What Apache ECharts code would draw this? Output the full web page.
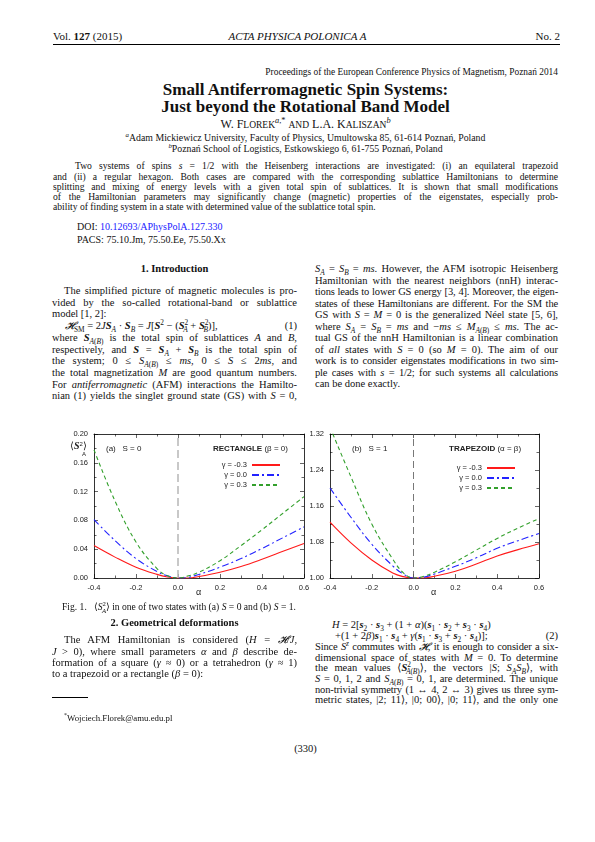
<!DOCTYPE html>
<html><head><meta charset="utf-8">
<script src="https://cdn.jsdelivr.net/npm/echarts@6/dist/echarts.min.js"></script>
<style>
html,body{margin:0;padding:0;background:#fff;}
#page{position:relative;width:595px;height:842px;font-family:"Liberation Serif","DejaVu Serif",serif;color:#111;}
.t{position:absolute;white-space:nowrap;line-height:12px;}
.j{text-align:justify;text-align-last:justify;white-space:nowrap;}
.b10{font-size:10.5px;}
.ab{font-size:9.6px;line-height:10px;}
i{font-style:italic;}
sub,sup{font-size:70%;line-height:0;}
.v{font-weight:bold;font-style:italic;}
#chart{position:absolute;left:0;top:420px;width:595px;height:195px;}
</style></head><body>
<div id="page">
<div class="t" style="left:53px;top:30px;font-size:11px;">Vol. <b>127</b> (2015)</div>
<div class="t" style="left:0;width:595px;text-align:center;top:30px;font-style:italic;font-size:11px;">ACTA PHYSICA POLONICA A</div>
<div class="t" style="left:460px;width:100px;text-align:right;top:30px;font-size:11px;">No. 2</div>
<div style="position:absolute;left:53px;top:44px;width:507px;border-top:0.8px solid #000;"></div>
<div class="t" style="left:208px;width:350px;text-align:right;top:66px;font-size:9.4px;">Proceedings of the European Conference Physics of Magnetism, Poznań 2014</div>
<div class="t" style="left:0;width:611px;text-align:center;top:80px;font-size:17px;font-weight:bold;line-height:20px;">Small Antiferromagnetic Spin Systems:</div>
<div class="t" style="left:0;width:611px;text-align:center;top:97px;font-size:17px;font-weight:bold;line-height:20px;">Just beyond the Rotational Band Model</div>
<div class="t" style="left:0;width:611px;text-align:center;top:118px;font-size:12px;">W. F<span style="font-size:9.5px">LOREK</span><sup><i>a</i>,*</sup> <span style="font-size:9.5px">AND</span> L.A. K<span style="font-size:9.5px">ALISZAN</span><sup><i>b</i></sup></div>
<div class="t" style="left:0;width:611px;text-align:center;top:132px;font-size:9.8px;"><sup><i>a</i></sup>Adam Mickiewicz University, Faculty of Physics, Umultowska 85, 61-614 Poznań, Poland</div>
<div class="t" style="left:0;width:611px;text-align:center;top:143px;font-size:9.8px;"><sup><i>b</i></sup>Poznań School of Logistics, Estkowskiego 6, 61-755 Poznań, Poland</div>
<div class="t ab j" style="left:75px;width:483px;top:161px;">Two systems of spins <i>s</i> = 1/2 with the Heisenberg interactions are investigated: (i) an equilateral trapezoid</div>
<div class="t ab j" style="left:53px;width:505px;top:172px;">and (ii) a regular hexagon. Both cases are compared with the corresponding sublattice Hamiltonians to determine</div>
<div class="t ab j" style="left:53px;width:505px;top:182px;">splitting and mixing of energy levels with a given total spin of sublattices. It is shown that small modifications</div>
<div class="t ab j" style="left:53px;width:505px;top:192px;">of the Hamiltonian parameters may significantly change (magnetic) properties of the eigenstates, especially prob-</div>
<div class="t ab" style="left:53px;top:202px;">ability of finding system in a state with determined value of the sublattice total spin.</div>
<div class="t" style="left:77px;top:221px;font-size:10px;">DOI: <span style="color:#1a1aff">10.12693/APhysPolA.127.330</span></div>
<div class="t" style="left:77px;top:234px;font-size:10px;">PACS: 75.10.Jm, 75.50.Ee, 75.50.Xx</div>

<div class="t b10" style="left:52px;width:245px;text-align:center;top:263px;font-weight:bold;">1. Introduction</div>
<div class="t b10 j" style="left:64px;width:233px;top:285px;">The simplified picture of magnetic molecules is pro-</div>
<div class="t b10 j" style="left:52px;width:245px;top:296.5px;">vided by the so-called rotational-band or sublattice</div>
<div class="t b10" style="left:52px;top:308px;">model [1, 2]:</div>
<div class="t b10" style="left:65px;top:320px;"><i>𝓗</i><sub>SM</sub> = 2<i>J</i><span class="v">S</span><sub><i>A</i></sub> · <span class="v">S</span><sub><i>B</i></sub> = <i>J</i>[<span class="v">S</span><sup>2</sup> − (<span class="v">S</span><sup>2</sup><sub style="margin-left:-5px"><i>A</i></sub> + <span class="v">S</span><sup>2</sup><sub style="margin-left:-5px"><i>B</i></sub>)],</div>
<div class="t b10" style="left:257px;width:40px;text-align:right;top:320px;">(1)</div>
<div class="t b10 j" style="left:52px;width:245px;top:332px;">where <span class="v">S</span><sub><i>A</i>(<i>B</i>)</sub> is the total spin of sublattices <i>A</i> and <i>B</i>,</div>
<div class="t b10 j" style="left:52px;width:245px;top:343.5px;">respectively, and <span class="v">S</span> = <span class="v">S</span><sub><i>A</i></sub> + <span class="v">S</span><sub><i>B</i></sub> is the total spin of</div>
<div class="t b10 j" style="left:52px;width:245px;top:355px;">the system; 0 ≤ <i>S</i><sub><i>A</i>(<i>B</i>)</sub> ≤ <i>ms</i>, 0 ≤ <i>S</i> ≤ 2<i>ms</i>, and</div>
<div class="t b10 j" style="left:52px;width:245px;top:367px;">the total magnetization <i>M</i> are good quantum numbers.</div>
<div class="t b10 j" style="left:52px;width:245px;top:378.5px;">For <i>antiferromagnetic</i> (AFM) interactions the Hamilto-</div>
<div class="t b10 j" style="left:52px;width:245px;top:390px;">nian (1) yields the singlet ground state (GS) with <i>S</i> = 0,</div>

<div class="t b10 j" style="left:315px;width:243px;top:263px;"><i>S</i><sub><i>A</i></sub> = <i>S</i><sub><i>B</i></sub> = <i>ms</i>. However, the AFM isotropic Heisenberg</div>
<div class="t b10 j" style="left:315px;width:243px;top:274.5px;">Hamiltonian with the nearest neighbors (nnH) interac-</div>
<div class="t b10 j" style="left:315px;width:243px;top:286px;letter-spacing:-0.15px;">tions leads to lower GS energy [3, 4]. Moreover, the eigen-</div>
<div class="t b10 j" style="left:315px;width:243px;top:297.5px;letter-spacing:-0.15px;">states of these Hamiltonians are different. For the SM the</div>
<div class="t b10 j" style="left:315px;width:243px;top:309px;">GS with <i>S</i> = <i>M</i> = 0 is the generalized Néel state [5, 6],</div>
<div class="t b10 j" style="left:315px;width:243px;top:320.5px;">where <i>S</i><sub><i>A</i></sub> = <i>S</i><sub><i>B</i></sub> = <i>ms</i> and −<i>ms</i> ≤ <i>M</i><sub><i>A</i>(<i>B</i>)</sub> ≤ <i>ms</i>. The ac-</div>
<div class="t b10 j" style="left:315px;width:243px;top:332px;">tual GS of the nnH Hamiltonian is a linear combination</div>
<div class="t b10 j" style="left:315px;width:243px;top:343.5px;">of <i>all</i> states with <i>S</i> = 0 (so <i>M</i> = 0). The aim of our</div>
<div class="t b10 j" style="left:315px;width:243px;top:355px;letter-spacing:-0.15px;">work is to consider eigenstates modifications in two sim-</div>
<div class="t b10 j" style="left:315px;width:243px;top:366.5px;letter-spacing:-0.15px;">ple cases with <i>s</i> = 1/2; for such systems all calculations</div>
<div class="t b10" style="left:315px;top:378px;">can be done exactly.</div>

<div id="chart"></div>

<div class="t" style="left:62px;top:601px;font-size:9.6px;">Fig. 1. &nbsp; ⟨<i>S</i><sup>2</sup><sub style="margin-left:-4px"><i>A</i></sub>⟩ in one of two states with (a) <i>S</i> = 0 and (b) <i>S</i> = 1.</div>
<div class="t b10" style="left:52px;width:245px;text-align:center;top:617px;font-weight:bold;">2. Geometrical deformations</div>
<div class="t b10 j" style="left:64px;width:233px;top:634px;">The AFM Hamiltonian is considered (<i>H</i> = <i>𝓗</i>/<i>J</i>,</div>
<div class="t b10 j" style="left:52px;width:245px;top:645.5px;"><i>J</i> &gt; 0), where small parameters <i>α</i> and <i>β</i> describe de-</div>
<div class="t b10 j" style="left:52px;width:245px;top:657px;">formation of a square (<i>γ</i> ≈ 0) or a tetrahedron (<i>γ</i> ≈ 1)</div>
<div class="t b10" style="left:52px;top:668px;">to a trapezoid or a rectangle (<i>β</i> = 0):</div>
<div style="position:absolute;left:52px;top:697px;width:36px;border-top:0.8px solid #000;"></div>
<div class="t" style="left:64px;top:712px;font-size:8.8px;"><sup>*</sup>Wojciech.Florek@amu.edu.pl</div>

<div class="t b10" style="left:332px;top:619px;"><i>H</i> = 2[<span class="v">s</span><sub>2</sub> · <span class="v">s</span><sub>3</sub> + (1 + <i>α</i>)(<span class="v">s</span><sub>1</sub> · <span class="v">s</span><sub>2</sub> + <span class="v">s</span><sub>3</sub> · <span class="v">s</span><sub>4</sub>)</div>
<div class="t b10" style="left:335px;top:630px;">+(1 + 2<i>β</i>)<span class="v">s</span><sub>1</sub> · <span class="v">s</span><sub>4</sub> + <i>γ</i>(<span class="v">s</span><sub>1</sub> · <span class="v">s</span><sub>3</sub> + <span class="v">s</span><sub>2</sub> · <span class="v">s</span><sub>4</sub>)];</div>
<div class="t b10" style="left:518px;width:40px;text-align:right;top:630px;">(2)</div>
<div class="t b10 j" style="left:315px;width:243px;top:641px;letter-spacing:-0.15px;">Since <i>S</i><sup><i>z</i></sup> commutes with <i>𝓗</i>, it is enough to consider a six-</div>
<div class="t b10 j" style="left:315px;width:243px;top:651.5px;">dimensional space of states with <i>M</i> = 0. To determine</div>
<div class="t b10 j" style="left:315px;width:243px;top:662px;">the mean values ⟨<span class="v">S</span><sup>2</sup><sub style="margin-left:-5px"><i>A</i>(<i>B</i>)</sub>⟩, the vectors |<i>S</i>; <i>S</i><sub><i>A</i></sub><i>S</i><sub><i>B</i></sub>⟩, with</div>
<div class="t b10 j" style="left:315px;width:243px;top:673px;"><i>S</i> = 0, 1, 2 and <i>S</i><sub><i>A</i>(<i>B</i>)</sub> = 0, 1, are determined. The unique</div>
<div class="t b10 j" style="left:315px;width:243px;top:683.5px;letter-spacing:-0.15px;">non-trivial symmetry (1 ↔ 4, 2 ↔ 3) gives us three sym-</div>
<div class="t b10 j" style="left:315px;width:243px;top:694px;">metric states, |2; 11⟩, |0; 00⟩, |0; 11⟩, and the only one</div>
<div class="t b10" style="left:0;width:611px;text-align:center;top:743px;">(330)</div>
</div>
<script>
var alphas = [-0.4,-0.3,-0.2,-0.1,-0.05,0,0.05,0.1,0.2,0.3,0.4,0.5,0.6];
var legendNames = ['γ = -0.3','γ = 0.0','γ = 0.3'];
var s0Red   = [0.045,0.029,0.015,0.005,0.0015,0,0,0.002,0.008,0.016,0.026,0.037,0.048];
var s0Blue  = [0.081,0.052,0.027,0.009,0.003,0,0.001,0.005,0.015,0.027,0.041,0.056,0.071];
var s0Green = [0.178,0.107,0.050,0.013,0.003,0,0.003,0.008,0.024,0.045,0.067,0.090,0.113];
var s1Red   = [1.124,1.078,1.040,1.011,1.003,1.000,1.000,1.004,1.015,1.031,1.049,1.063,1.076];
var s1Blue  = [1.200,1.135,1.075,1.027,1.009,1.000,1.002,1.009,1.026,1.045,1.066,1.083,1.099];
var s1Green = [1.335,1.225,1.120,1.042,1.012,1.000,1.004,1.013,1.036,1.062,1.088,1.111,1.132];

function pairs(v){return alphas.map(function(a,i){return [a,v[i]];});}
var FONT='"Liberation Sans",Arial,sans-serif';
var lbl={fontSize:7.5,fontFamily:FONT,color:'#222'};
var axL={onZero:false,lineStyle:{color:'#000',width:0.8}};
var tk={show:true,inside:true,length:4,lineStyle:{color:'#000',width:0.6}};
var mtk={show:true,splitNumber:2,length:2.5,lineStyle:{color:'#000',width:0.6}};
function xAx(g,show,pos){return {type:'value',gridIndex:g,min:-0.4,max:0.6,interval:0.2,position:pos,
 axisLine:axL,axisTick:tk,minorTick:mtk,splitLine:{show:false},
 axisLabel:{show:show,margin:6,fontSize:7.5,fontFamily:FONT,color:'#222',formatter:function(v){return v.toFixed(1);}}};}
function yAx(g,mn,mx,iv,show,pos){return {type:'value',gridIndex:g,min:mn,max:mx,interval:iv,position:pos,
 axisLine:axL,axisTick:tk,minorTick:mtk,splitLine:{show:false},
 axisLabel:{show:show,margin:6,fontSize:7.5,fontFamily:FONT,color:'#222',formatter:function(v){return v.toFixed(2);}}};}
var styles=[{color:'#ff1a1a',type:'solid'},{color:'#2222ff',type:[7,3,2,3]},{color:'#33a02c',type:[4,3]}];
function ser(name,data,xi,yi,k,mark){var s={name:name,type:'line',xAxisIndex:xi,yAxisIndex:yi,data:pairs(data),smooth:0.4,
 symbol:'none',lineStyle:{color:styles[k].color,type:styles[k].type,width:1.1},itemStyle:{color:styles[k].color},z:3};
 if(mark){s.markLine={silent:true,symbol:'none',label:{show:false},lineStyle:mark,data:[{xAxis:0}]};}
 return s;}
var chart=echarts.init(document.getElementById('chart'));
var lg={orient:'vertical',align:'right',itemWidth:28,itemHeight:8,itemGap:2,textStyle:lbl,selectedMode:false,
 itemStyle:{opacity:0,borderWidth:0}};
chart.setOption({
 animation:false,
 grid:[{left:94,width:210,top:14,height:144},{left:330,width:209,top:14,height:144}],
 xAxis:[xAx(0,true,'bottom'),xAx(1,true,'bottom'),xAx(0,false,'top'),xAx(1,false,'top')],
 yAxis:[yAx(0,0,0.2,0.04,true,'left'),yAx(1,1.0,1.32,0.08,true,'left'),yAx(0,0,0.2,0.04,false,'right'),yAx(1,1.0,1.32,0.08,false,'right')],
 legend:[
  Object.assign({data:legendNames,right:309,top:36},lg),
  Object.assign({data:legendNames,right:74,top:39},lg)
 ],
 series:[
  ser(legendNames[0],s0Red,0,0,0,{color:'#bbb',type:[8,4],width:1.6}),
  ser(legendNames[1],s0Blue,0,0,1),
  ser(legendNames[2],s0Green,0,0,2),
  ser(legendNames[0],s1Red,1,1,0,{color:'#555',type:[7,4],width:0.8}),
  ser(legendNames[1],s1Blue,1,1,1),
  ser(legendNames[2],s1Green,1,1,2)
 ],
 graphic:[
  {type:'text',left:70,top:21,style:{text:'⟨{b|S}{s|2}⟩',rich:{b:{fontWeight:'bold',fontStyle:'italic',fontSize:10,fontFamily:'Liberation Serif'},s:{fontSize:6,verticalAlign:'top'}},fontSize:10,fontFamily:'Liberation Serif',fill:'#222'}},
  {type:'text',left:82,top:31,style:{text:'A',fontSize:6,fontFamily:FONT,fill:'#222'}},
  {type:'text',left:106,top:25,style:{text:'(a)   S = 0',fontSize:8,fontFamily:FONT,fill:'#222'}},
  {type:'text',left:213,top:25,style:{text:'{b|RECTANGLE} (β = 0)',fontSize:8,fontFamily:FONT,fill:'#222',rich:{b:{fontWeight:'bold',fontSize:8,fontFamily:FONT}}}},
  {type:'text',left:352,top:25,style:{text:'(b)   S = 1',fontSize:8,fontFamily:FONT,fill:'#222'}},
  {type:'text',left:449,top:25,style:{text:'{b|TRAPEZOID} (α = β)',fontSize:8,fontFamily:FONT,fill:'#222',rich:{b:{fontWeight:'bold',fontSize:8,fontFamily:FONT}}}},
  {type:'text',left:196,top:168,style:{text:'α',fontSize:9,fontFamily:FONT,fill:'#222'}},
  {type:'text',left:431,top:168,style:{text:'α',fontSize:9,fontFamily:FONT,fill:'#222'}}
 ]
});
</script>
</body></html>
